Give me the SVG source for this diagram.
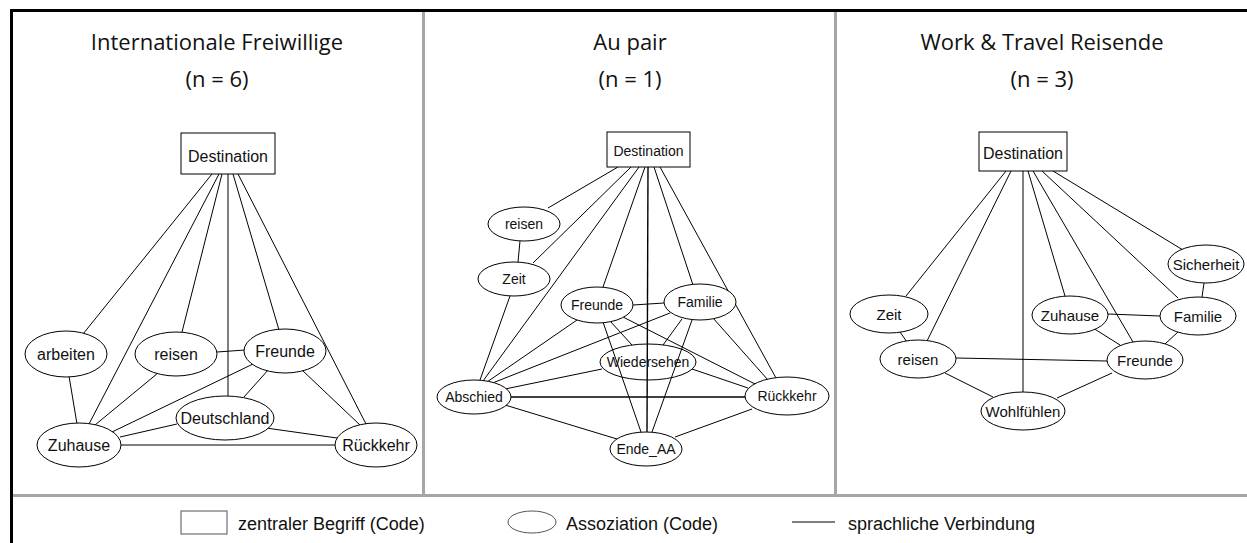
<svg xmlns="http://www.w3.org/2000/svg" width="1247" height="543" viewBox="0 0 1247 543">
  <style>
    .frame { stroke: #000; stroke-width: 3; fill: none; }
    .divider { stroke: #a6a6a6; stroke-width: 3; fill: none; }
    .title { font-family: "Open Sans", "Noto Sans", sans-serif; font-size: 22px; fill: #111; text-anchor: middle; }
    .edge { stroke: #000; stroke-width: 1; fill: none; }
    .edge.heavy { stroke-width: 1.4; }
    .box, .assoc { stroke: #000; stroke-width: 1; fill: #fff; }
    .assoc.open { fill: none; }
    .lbl { font-family: "Liberation Sans", Arial, sans-serif; fill: #111; text-anchor: middle; }
    .p1 .lbl { font-size: 16px; }
    .p2 .lbl { font-size: 14px; }
    .p3 .lbl { font-size: 15px; }
    .p3 .lbl.big { font-size: 16px; }
    .legend-shape { stroke: #555; stroke-width: 1; fill: #fff; }
    .legend-text { font-family: "Liberation Sans", Arial, sans-serif; font-size: 18px; fill: #111; }
  </style>

  <rect width="1247" height="543" fill="#fff"/>

  <!-- outer frame and panel dividers -->
  <g id="frame">
    <line class="divider" x1="423.5" y1="12" x2="423.5" y2="495"/>
    <line class="divider" x1="835.5" y1="12" x2="835.5" y2="495"/>
    <line class="divider" x1="13" y1="495.5" x2="1247" y2="495.5"/>
    <line class="frame" x1="10" y1="10.5" x2="1247" y2="10.5"/>
    <line class="frame" x1="11.5" y1="9" x2="11.5" y2="543"/>
  </g>

  <!-- panel headings -->
  <g id="titles">
    <text class="title" x="217" y="50">Internationale Freiwillige</text>
    <text class="title" x="217" y="87">(n = 6)</text>
    <text class="title" x="630" y="50">Au pair</text>
    <text class="title" x="630" y="87">(n = 1)</text>
    <text class="title" x="1042" y="50">Work &amp; Travel Reisende</text>
    <text class="title" x="1042" y="87">(n = 3)</text>
  </g>

  <!-- all linguistic links -->
  <g id="connectors">
    <!-- panel 1 -->
    <line class="edge" x1="212" y1="174" x2="83" y2="334"/>
    <line class="edge" x1="219" y1="174" x2="89" y2="424"/>
    <line class="edge" x1="222" y1="174" x2="182" y2="332"/>
    <line class="edge" x1="228" y1="174" x2="228" y2="396"/>
    <line class="edge" x1="233" y1="174" x2="279" y2="330"/>
    <line class="edge" x1="238" y1="174" x2="366" y2="424"/>
    <line class="edge" x1="69" y1="376" x2="77" y2="424"/>
    <line class="edge" x1="158" y1="373" x2="95" y2="425"/>
    <line class="edge" x1="217" y1="352" x2="245" y2="350"/>
    <line class="edge" x1="253" y1="364" x2="112" y2="432"/>
    <line class="edge" x1="269" y1="369" x2="244" y2="397"/>
    <line class="edge" x1="302" y1="370" x2="360" y2="425"/>
    <line class="edge" x1="177" y1="424" x2="120" y2="437"/>
    <line class="edge" x1="266" y1="428" x2="337" y2="438"/>
    <line class="edge" x1="121" y1="445" x2="335" y2="445"/>

    <!-- panel 2 -->
    <line class="edge" x1="618" y1="167" x2="548" y2="208"/>
    <line class="edge" x1="631" y1="167" x2="533" y2="263"/>
    <line class="edge" x1="639" y1="167" x2="483" y2="381"/>
    <line class="edge" x1="645" y1="167" x2="603" y2="287"/>
    <line class="edge heavy" x1="648" y1="167" x2="647" y2="432"/>
    <line class="edge" x1="654" y1="167" x2="693" y2="285"/>
    <line class="edge" x1="660" y1="167" x2="776" y2="378"/>
    <line class="edge" x1="520" y1="241" x2="518" y2="262"/>
    <line class="edge" x1="510" y1="296" x2="480" y2="380"/>
    <line class="edge" x1="487" y1="382" x2="577" y2="320"/>
    <line class="edge" x1="490" y1="384" x2="670" y2="313"/>
    <line class="edge" x1="505" y1="389" x2="602" y2="369"/>
    <line class="edge heavy" x1="511" y1="397" x2="745" y2="397"/>
    <line class="edge" x1="505" y1="405" x2="617" y2="439"/>
    <line class="edge" x1="633" y1="305" x2="664" y2="303"/>
    <line class="edge" x1="610" y1="321" x2="632" y2="345"/>
    <line class="edge" x1="623" y1="317" x2="757" y2="385"/>
    <line class="edge" x1="603" y1="322" x2="641" y2="432"/>
    <line class="edge" x1="682" y1="319" x2="663" y2="345"/>
    <line class="edge" x1="692" y1="320" x2="652" y2="432"/>
    <line class="edge" x1="713" y1="318" x2="768" y2="380"/>
    <line class="edge" x1="692" y1="369" x2="748" y2="388"/>
    <line class="edge" x1="752" y1="409" x2="675" y2="437"/>

    <!-- panel 3 -->
    <line class="edge" x1="1006" y1="171" x2="906" y2="296"/>
    <line class="edge" x1="1011" y1="171" x2="927" y2="341"/>
    <line class="edge" x1="1023" y1="171" x2="1023" y2="392"/>
    <line class="edge" x1="1028" y1="171" x2="1065" y2="296"/>
    <line class="edge" x1="1033" y1="171" x2="1133" y2="342"/>
    <line class="edge" x1="1042" y1="171" x2="1178" y2="298"/>
    <line class="edge" x1="1053" y1="171" x2="1183" y2="250"/>
    <line class="edge" x1="900" y1="332" x2="907" y2="342"/>
    <line class="edge" x1="945" y1="373" x2="993" y2="397"/>
    <line class="edge" x1="956" y1="358" x2="1107" y2="361"/>
    <line class="edge" x1="1057" y1="398" x2="1112" y2="373"/>
    <line class="edge" x1="1108" y1="314" x2="1160" y2="316"/>
    <line class="edge" x1="1093" y1="328" x2="1120" y2="345"/>
    <line class="edge" x1="1178" y1="332" x2="1165" y2="344"/>
    <line class="edge" x1="1204" y1="283" x2="1202" y2="297"/>
  </g>

  <!-- Internationale Freiwillige -->
  <g class="p1">
    <g id="p1-destination"><rect class="box" x="181" y="133" width="94" height="41"/><text class="lbl" x="228" y="162">Destination</text></g>
    <g id="p1-arbeiten"><ellipse class="assoc" cx="66" cy="354" rx="41" ry="23"/><text class="lbl" x="66" y="360">arbeiten</text></g>
    <g id="p1-reisen"><ellipse class="assoc" cx="176" cy="354" rx="41" ry="22"/><text class="lbl" x="176" y="360">reisen</text></g>
    <g id="p1-freunde"><ellipse class="assoc" cx="285" cy="351" rx="41" ry="22"/><text class="lbl" x="285" y="357">Freunde</text></g>
    <g id="p1-deutschland"><ellipse class="assoc" cx="225" cy="418" rx="49" ry="22"/><text class="lbl" x="225" y="424">Deutschland</text></g>
    <g id="p1-zuhause"><ellipse class="assoc" cx="79" cy="445" rx="42" ry="22"/><text class="lbl" x="79" y="451">Zuhause</text></g>
    <g id="p1-rueckkehr"><ellipse class="assoc" cx="376" cy="445" rx="41" ry="22"/><text class="lbl" x="376" y="451">Rückkehr</text></g>
  </g>

  <!-- Au pair -->
  <g class="p2">
    <g id="p2-destination"><rect class="box" x="607" y="132" width="83" height="35"/><text class="lbl" x="648.5" y="156">Destination</text></g>
    <g id="p2-reisen"><ellipse class="assoc" cx="524" cy="224" rx="36" ry="17"/><text class="lbl" x="524" y="229">reisen</text></g>
    <g id="p2-zeit"><ellipse class="assoc" cx="514" cy="279" rx="36" ry="17"/><text class="lbl" x="514" y="284">Zeit</text></g>
    <g id="p2-freunde"><ellipse class="assoc" cx="597" cy="305" rx="36" ry="18"/><text class="lbl" x="597" y="310">Freunde</text></g>
    <g id="p2-familie"><ellipse class="assoc" cx="700" cy="302" rx="36" ry="18"/><text class="lbl" x="700" y="307">Familie</text></g>
    <g id="p2-wiedersehen"><ellipse class="assoc open" cx="648" cy="362" rx="48" ry="18"/><text class="lbl" x="648" y="367">Wiedersehen</text></g>
    <g id="p2-abschied"><ellipse class="assoc" cx="474" cy="397" rx="37" ry="17"/><text class="lbl" x="474" y="402">Abschied</text></g>
    <g id="p2-rueckkehr"><ellipse class="assoc" cx="787" cy="396" rx="42" ry="19"/><text class="lbl" x="787" y="401">Rückkehr</text></g>
    <g id="p2-ende-aa"><ellipse class="assoc" cx="646" cy="449" rx="36" ry="17"/><text class="lbl" x="646" y="454">Ende_AA</text></g>
  </g>

  <!-- Work & Travel Reisende -->
  <g class="p3">
    <g id="p3-destination"><rect class="box" x="979" y="132" width="88" height="39"/><text class="lbl big" x="1023" y="159">Destination</text></g>
    <g id="p3-sicherheit"><ellipse class="assoc" cx="1206" cy="264" rx="38" ry="19"/><text class="lbl" x="1206" y="269.5">Sicherheit</text></g>
    <g id="p3-zeit"><ellipse class="assoc" cx="889" cy="314" rx="39" ry="19"/><text class="lbl" x="889" y="319.5">Zeit</text></g>
    <g id="p3-zuhause"><ellipse class="assoc" cx="1070" cy="315" rx="38" ry="19"/><text class="lbl" x="1070" y="320.5">Zuhause</text></g>
    <g id="p3-familie"><ellipse class="assoc" cx="1198" cy="316" rx="38" ry="19"/><text class="lbl" x="1198" y="321.5">Familie</text></g>
    <g id="p3-reisen"><ellipse class="assoc" cx="918" cy="359" rx="38" ry="19"/><text class="lbl" x="918" y="364.5">reisen</text></g>
    <g id="p3-freunde"><ellipse class="assoc" cx="1145" cy="360" rx="38" ry="19"/><text class="lbl" x="1145" y="365.5">Freunde</text></g>
    <g id="p3-wohlfuehlen"><ellipse class="assoc" cx="1023" cy="411" rx="42" ry="19"/><text class="lbl" x="1023" y="416.5">Wohlfühlen</text></g>
  </g>

  <!-- key -->
  <g id="legend">
    <rect class="legend-shape" x="181" y="511" width="46" height="23"/>
    <text class="legend-text" x="238" y="530">zentraler Begriff (Code)</text>
    <ellipse class="legend-shape" cx="532" cy="522" rx="24" ry="11"/>
    <text class="legend-text" x="566" y="530">Assoziation (Code)</text>
    <line class="edge" x1="792" y1="522" x2="835" y2="522"/>
    <text class="legend-text" x="848" y="530">sprachliche Verbindung</text>
  </g>
</svg>
